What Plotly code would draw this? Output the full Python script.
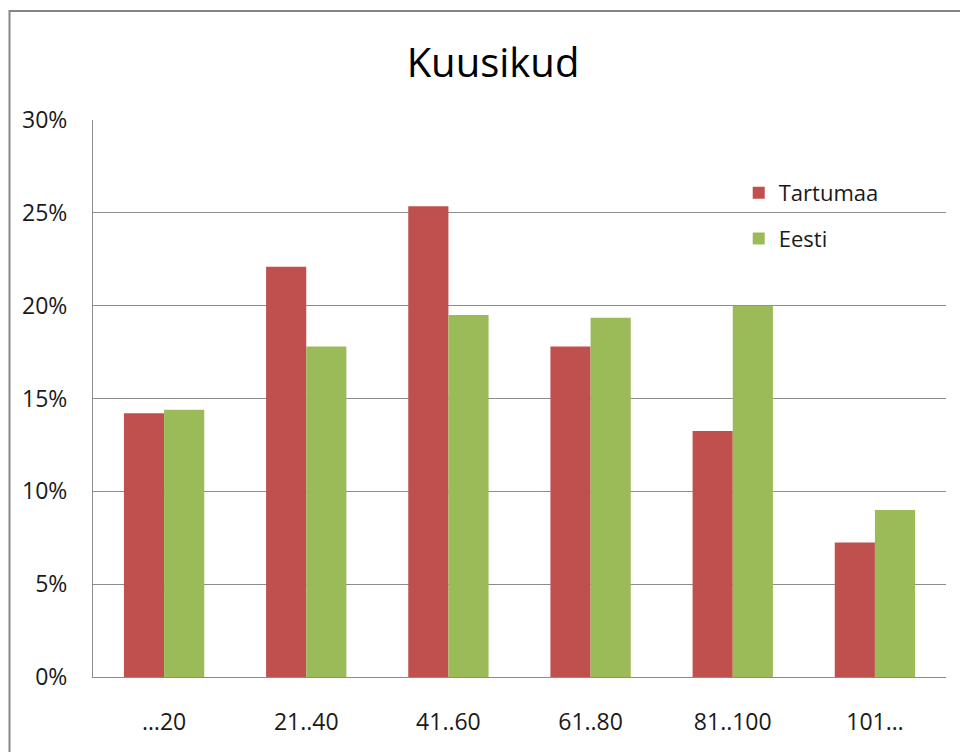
import plotly.graph_objects as go

categories = ["…20", "21..40", "41..60", "61..80", "81..100", "101…"]
tartumaa = [14.2, 22.1, 25.35, 17.8, 13.25, 7.25]
eesti = [14.4, 17.8, 19.5, 19.35, 20.0, 9.0]
y_ticks = [0, 5, 10, 15, 20, 25, 30]
y_tick_labels = [f"{v}%" for v in y_ticks]

FONT = "Open Sans, Noto Sans, sans-serif"
GRID = "#8c8c8c"

# the page body adds an 8px margin, so the figure is 8px smaller on each side
fig = go.Figure()
fig.add_trace(
    go.Bar(
        x=categories,
        y=tartumaa,
        name="Tartumaa",
        marker_color="#c0504d",
        marker_line_width=0,
        legendgroup="a",
    )
)
fig.add_trace(
    go.Bar(
        x=categories,
        y=eesti,
        name="Eesti",
        marker_color="#9bbb59",
        marker_line_width=0,
        legendgroup="b",
    )
)

fig.update_layout(
    width=960,
    height=744,
    margin=dict(l=85, r=22, t=112, b=75),
    paper_bgcolor="white",
    plot_bgcolor="white",
    font=dict(family=FONT, size=23, color="#1a1a1a"),
    title=dict(
        text="Kuusikud",
        x=(493 - 8) / 960,
        xanchor="center",
        y=1 - 55 / 744,
        yanchor="middle",
        font=dict(family=FONT, size=40, color="#000000"),
    ),
    barmode="group",
    bargap=0.435,
    bargroupgap=0,
    showlegend=True,
    legend=dict(
        x=0.757,
        y=(677 - 172) / 557,
        xanchor="left",
        yanchor="top",
        bgcolor="rgba(0,0,0,0)",
        font=dict(family=FONT, size=22, color="#1a1a1a"),
        tracegroupgap=14,
        traceorder="grouped",
    ),
    xaxis=dict(
        showgrid=False,
        showline=True,
        linecolor=GRID,
        linewidth=1,
        ticks="",
        ticklabelstandoff=24,
        tickfont=dict(family=FONT, size=23, color="#1a1a1a"),
    ),
    yaxis=dict(
        range=[0, 30],
        tickvals=y_ticks,
        ticktext=y_tick_labels,
        showgrid=True,
        gridcolor=GRID,
        gridwidth=1,
        showline=True,
        linecolor=GRID,
        linewidth=1,
        zeroline=False,
        ticks="",
        ticklabelstandoff=20,
        tickfont=dict(family=FONT, size=23, color="#1a1a1a"),
    ),
)

# outer chart frame (left edge kept just inside the figure)
fig.add_shape(
    type="rect",
    xref="paper",
    yref="paper",
    x0=-83.5 / 853,
    x1=1.2,
    y0=-0.3,
    y1=(677 - 11) / 557,
    line=dict(color="#868686", width=2),
    fillcolor="rgba(0,0,0,0)",
    layer="above",
)

fig.write_html("out.html")
